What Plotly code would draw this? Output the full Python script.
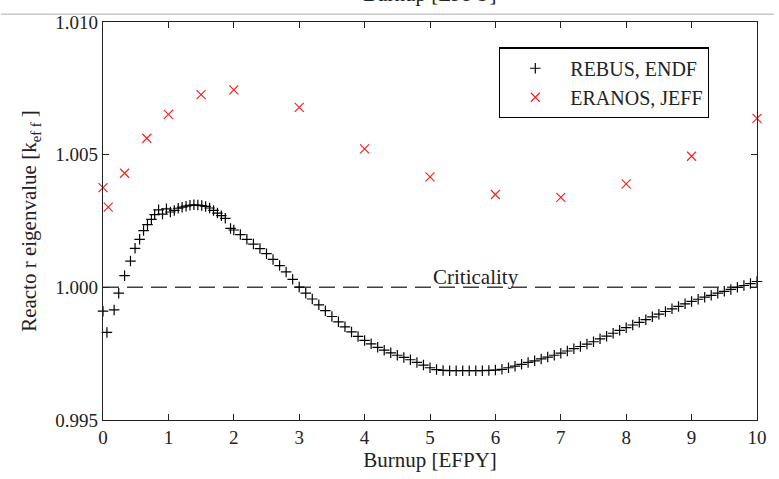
import plotly.graph_objects as go

# REBUS (ENDF) depletion results: burnup [EFPY] and k_eff
rebus_burnup = [
    0.00, 0.06, 0.17, 0.24, 0.33, 0.42, 0.49, 0.56, 0.62, 0.68,
    0.74, 0.79, 0.85, 0.91, 0.97, 1.03, 1.09, 1.15, 1.21, 1.27,
    1.33, 1.39, 1.45, 1.51, 1.57, 1.63, 1.69, 1.75, 1.81, 1.87,
    1.95, 2.0, 2.1, 2.2, 2.3, 2.4, 2.5, 2.6, 2.7, 2.8, 2.9,
    3.0, 3.1, 3.2, 3.3, 3.4, 3.5, 3.6, 3.7, 3.8, 3.9,
    4.0, 4.1, 4.2, 4.3, 4.4, 4.5, 4.6, 4.7, 4.8, 4.9,
    5.0, 5.1, 5.2, 5.3, 5.4, 5.5, 5.6, 5.7, 5.8, 5.9,
    6.0, 6.1, 6.2, 6.3, 6.4, 6.5, 6.6, 6.7, 6.8, 6.9,
    7.0, 7.1, 7.2, 7.3, 7.4, 7.5, 7.6, 7.7, 7.8, 7.9,
    8.0, 8.1, 8.2, 8.3, 8.4, 8.5, 8.6, 8.7, 8.8, 8.9,
    9.0, 9.1, 9.2, 9.3, 9.4, 9.5, 9.6, 9.7, 9.8, 9.9,
    10.0,
]
rebus_keff = [
    0.99910, 0.99830, 0.99915, 0.99978, 1.00044, 1.00099, 1.00147, 1.00181, 1.00214, 1.00236,
    1.00256, 1.00274, 1.00292, 1.00276, 1.00296, 1.00284, 1.00290, 1.00298, 1.00302, 1.00306,
    1.00309, 1.00311, 1.00310, 1.00308, 1.00305, 1.00299, 1.00290, 1.00280, 1.00270, 1.00260,
    1.00222, 1.00216, 1.00199, 1.00181, 1.00163, 1.00146, 1.00127, 1.00105, 1.00082, 1.00058, 1.00030,
    1.00001, 0.99978, 0.99956, 0.99934, 0.99912, 0.99890, 0.99870, 0.99851, 0.99832, 0.99815,
    0.99800, 0.99787, 0.99774, 0.99763, 0.99753, 0.99744, 0.99736, 0.99727, 0.99717, 0.99707,
    0.99697, 0.99690, 0.99687, 0.99686, 0.99686, 0.99686, 0.99686, 0.99686, 0.99686, 0.99687,
    0.99688, 0.99691, 0.99697, 0.99703, 0.99710, 0.99717, 0.99723, 0.99730, 0.99737, 0.99744,
    0.99752, 0.99760, 0.99769, 0.99777, 0.99786, 0.99795, 0.99806, 0.99816, 0.99827, 0.99838,
    0.99848, 0.99858, 0.99868, 0.99878, 0.99889, 0.99899, 0.99909, 0.99919, 0.99928, 0.99938,
    0.99947, 0.99955, 0.99963, 0.99970, 0.99978, 0.99985, 0.99992, 1.00000, 1.00007, 1.00014,
    1.00022,
]

# ERANOS (JEFF) results
eranos_burnup = [0.0, 0.08, 0.33, 0.67, 1.0, 1.5, 2.0, 3.0, 4.0, 5.0, 6.0, 7.0, 8.0, 9.0, 10.0]
eranos_keff = [1.00376, 1.00302, 1.00430, 1.00562, 1.00652, 1.00726, 1.00744, 1.00678,
               1.00522, 1.00416, 1.00350, 1.00339, 1.00390, 1.00494, 1.00637]

# criticality reference
crit_burnup = [0.0, 10.0]
crit_keff = [1.0, 1.0]

x_ticks = [0, 1, 2, 3, 4, 5, 6, 7, 8, 9, 10]
y_ticks = [0.995, 1.000, 1.005, 1.010]

FONT = "Liberation Serif, Times New Roman, serif"
INK = "#222222"
TICK_SIZE = 19
TITLE_SIZE = 21
LEGEND_SIZE = 20

fig = go.Figure()

fig.add_trace(go.Scatter(
    x=crit_burnup, y=crit_keff, mode="lines",
    line=dict(color="#404040", width=1.5, dash="16px,8px"),
    showlegend=False, hoverinfo="skip",
))

fig.add_trace(go.Scatter(
    x=rebus_burnup, y=rebus_keff, mode="markers", name="REBUS, ENDF",
    marker=dict(symbol="cross-thin", size=7.5, line=dict(color="black", width=1.2)),
    cliponaxis=False,
))

fig.add_trace(go.Scatter(
    x=eranos_burnup, y=eranos_keff, mode="markers", name="ERANOS, JEFF",
    marker=dict(symbol="x-thin", size=9, line=dict(color="#ff2020", width=1.2)),
    cliponaxis=False,
))

axis_common = dict(
    showline=True, linecolor=INK, linewidth=1.3, mirror="ticks",
    ticks="inside", ticklen=6, tickcolor=INK, tickwidth=1,
    showgrid=False, zeroline=False,
    tickfont=dict(family=FONT, size=TICK_SIZE, color=INK),
)

fig.update_xaxes(
    range=[0, 10], tickvals=x_ticks,
    title=dict(text="Burnup [EFPY]", font=dict(family=FONT, size=TITLE_SIZE, color=INK), standoff=4),
    **axis_common,
)
fig.update_yaxes(
    range=[0.995, 1.010], tickvals=y_ticks, tickformat=".3f",
    title=dict(text="Reacto r eigenvalue [k<sub>ef f</sub> ]",
               font=dict(family=FONT, size=TITLE_SIZE, color=INK), standoff=12),
    **axis_common,
)

fig.update_layout(
    width=779, height=479,
    margin=dict(l=103, r=17, t=16, b=56),
    paper_bgcolor="white", plot_bgcolor="white",
    font=dict(family=FONT, size=TICK_SIZE, color=INK),
    legend=dict(
        x=0.6055, y=0.936, xanchor="left", yanchor="top",
        bordercolor="black", borderwidth=1.3, bgcolor="white",
        font=dict(family=FONT, size=LEGEND_SIZE, color=INK),
        tracegroupgap=0, itemwidth=60,
    ),
    annotations=[
        dict(text="Criticality", x=5.7, y=1.0, xref="x", yref="y",
             xanchor="center", yanchor="bottom", showarrow=False, yshift=-4,
             font=dict(family=FONT, size=TITLE_SIZE, color=INK)),
        # axis title repeated above, trimmed by the page edge
        dict(text="Burnup [EFPY]", x=0.5, y=1.0197, xref="paper", yref="paper",
             xanchor="center", yanchor="bottom", showarrow=False, yshift=6,
             font=dict(family=FONT, size=TITLE_SIZE, color=INK)),
    ],
    shapes=[
        dict(type="line", xref="paper", yref="paper",
             x0=-103 / 659, x1=676 / 659, y0=1.0197, y1=1.0197,
             line=dict(color="#c8c8c8", width=1.5)),
    ],
)

fig.write_html("out.html")
